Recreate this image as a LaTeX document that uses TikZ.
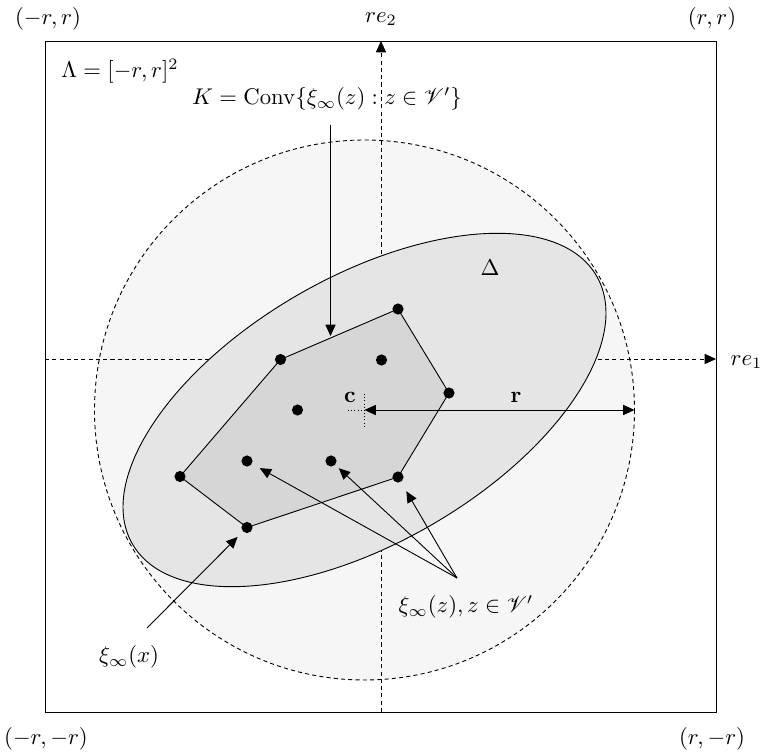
\documentclass[tikz,border=0pt]{standalone}
\usepackage{amsmath,amssymb}
\usepackage{mathrsfs}
\usetikzlibrary{arrows.meta}
\definecolor{discfill}{RGB}{246,246,246}
\definecolor{ellfill}{RGB}{229,229,229}
\definecolor{polyfill}{RGB}{214,214,214}
\begin{document}
\begin{tikzpicture}[x=0.44pt,y=-0.44pt,line width=0.4pt,
  tipend/.style={-{Triangle[length=5pt,width=4.5pt]}},
  bothtips/.style={{Triangle[length=5pt,width=4.5pt]}-{Triangle[length=5pt,width=4.5pt]}},
  axisline/.style={tipend, dash pattern=on 1.8pt off 1.4pt},
  dashline/.style={dash pattern=on 1.8pt off 1.4pt},
  dot/.style={circle, fill=black, inner sep=0pt, minimum size=4.9pt},
  lbl/.style={inner sep=1pt}]
\useasboundingbox (0,0) rectangle (764,754);
% square
\draw (45,41) rectangle (716,712);
% corner labels
\node[lbl] (tl) at (48,19) {$(-r,r)$};
\node[lbl] (tr) at (712,19) {$(r,r)$};
\node[lbl] (bl) at (46,739) {$(-r,-r)$};
\node[lbl] (br) at (712,739) {$(r,-r)$};
\node[lbl] (lam) at (120,71) {$\Lambda=[-r,r]^2$};
% disc
\coordinate (c) at (364.5,410);
\coordinate (rt) at (634.5,410);
\filldraw[fill=discfill, dashline] (c) circle[radius=270];
% axes
\coordinate (xs) at (45,359);
\coordinate (xe) at (716,359);
\coordinate (ys) at (381,712);
\coordinate (ye) at (381,41);
\draw[axisline] (xs) -- (xe);
\draw[axisline] (ys) -- (ye);
\node[lbl, anchor=west] (re1) at (728,362) {$re_1$};
\node[lbl] (re2) at (381,19) {$re_2$};
% ellipse
\filldraw[fill=ellfill, rotate around={30:(c)}] (c) ellipse[x radius=268, y radius=133];
\node[lbl] (delta) at (490,268) {$\Delta$};
% polygon
\coordinate (v1) at (280.5,359.5);
\coordinate (v2) at (398,309);
\coordinate (v3) at (449,393);
\coordinate (v4) at (398,477);
\coordinate (v5) at (247,527.5);
\coordinate (v6) at (180,476.5);
\filldraw[fill=polyfill] (v1) -- (v2) -- (v3) -- (v4) -- (v5) -- (v6) -- cycle;
\node[dot] (d1) at (v1) {};
\node[dot] (d2) at (v2) {};
\node[dot] (d3) at (v3) {};
\node[dot] (d4) at (v4) {};
\node[dot] (d5) at (v5) {};
\node[dot] (d6) at (v6) {};
\node[dot] (d7) at (381.5,360) {};
\node[dot] (d8) at (297.5,410) {};
\node[dot] (d9) at (247,461) {};
\node[dot] (d10) at (331,461) {};
% center cross and radius
\draw[densely dotted] (348,410) -- (381,410);
\draw[densely dotted] (364.5,394) -- (364.5,426);
\draw[bothtips] (c) -- (rt);
\node[lbl] (clab) at (350,397) {$\mathbf{c}$};
\node[lbl] (rlab) at (516,397) {$\mathbf{r}$};
% K label and arrow
\node[lbl] (K) at (327,99) {$K=\mathrm{Conv}\{\xi_\infty(z) : z\in\mathscr{V}'\}$};
\coordinate (ks) at (330.5,125);
\coordinate (kt) at (330.5,336);
\draw[tipend] (ks) -- (kt);
% xi(z) arrows
\node[lbl] (zlab) at (466,607) {$\xi_\infty(z), z\in\mathscr{V}'$};
\coordinate (zc) at (457,578);
\draw[tipend, shorten >=3.8pt] (zc) -- (d9);
\draw[tipend, shorten >=2pt] (zc) -- (d10);
\draw[tipend, shorten >=4.6pt] (zc) -- (d4);
% xi(x) arrow
\node[lbl] (xlab) at (129,657) {$\xi_\infty(x)$};
\coordinate (xc) at (147,628);
\draw[tipend, shorten >=3.2pt] (xc) -- (d5);
\end{tikzpicture}
\end{document}
